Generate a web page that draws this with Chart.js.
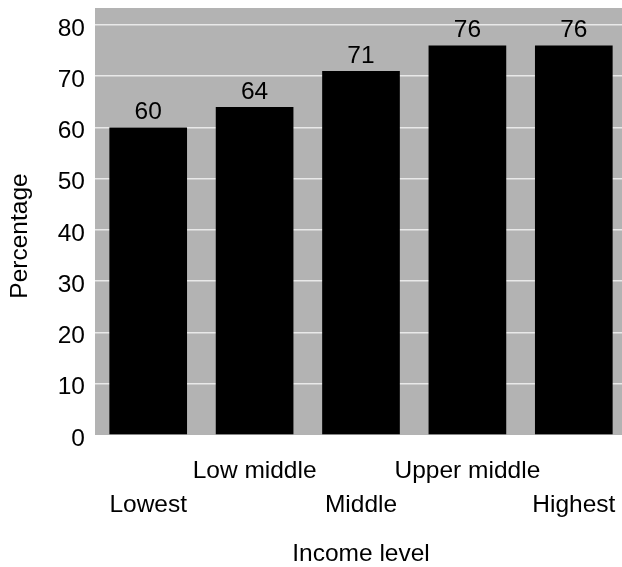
<!DOCTYPE html>
<html>
<head>
<meta charset="utf-8">
<script src="https://cdn.jsdelivr.net/npm/chart.js@4/dist/chart.umd.min.js"></script>
<style>
  html, body { margin: 0; padding: 0; background: #ffffff; overflow: hidden; }
  #wrap { width: 622px; height: 567px; overflow: hidden; position: relative; }
  canvas { display: block; }
</style>
</head>
<body>
<div id="wrap"><canvas id="chart" width="632" height="567"></canvas></div>
<script>
// Share of each income group (percent)
const categories = ['Lowest', 'Low middle', 'Middle', 'Upper middle', 'Highest'];
const percentages = [60, 64, 71, 76, 76];
const yTicks = [0, 10, 20, 30, 40, 50, 60, 70, 80];
const xTitle = 'Income level';
const yTitle = 'Percentage';

const FONT = 'Liberation Sans, Arial, Helvetica, sans-serif';
const SIZE = 24.5;

// Alternate labels between two rows so the long names do not collide
const staggered = categories.map((c, i) => (i % 2 === 0 ? ['', c] : [c, '']));

const plotBackground = {
  id: 'plotBackground',
  beforeDraw(chart) {
    const { ctx, chartArea: a } = chart;
    ctx.save();
    ctx.fillStyle = '#b3b3b3';
    ctx.fillRect(a.left, a.top, a.right - a.left, a.bottom - a.top);
    ctx.restore();
  }
};

const valueLabels = {
  id: 'valueLabels',
  afterDatasetsDraw(chart) {
    const { ctx } = chart;
    const meta = chart.getDatasetMeta(0);
    ctx.save();
    ctx.font = SIZE + 'px ' + FONT;
    ctx.fillStyle = '#000000';
    ctx.textAlign = 'center';
    ctx.textBaseline = 'alphabetic';
    meta.data.forEach((bar, i) => {
      ctx.fillText(String(percentages[i]), bar.x, bar.y - 8);
    });
    ctx.restore();
  }
};

const yAxisTitle = {
  id: 'yAxisTitle',
  afterDraw(chart) {
    const { ctx } = chart;
    ctx.save();
    ctx.font = SIZE + 'px ' + FONT;
    ctx.fillStyle = '#000000';
    ctx.textAlign = 'center';
    ctx.textBaseline = 'alphabetic';
    ctx.translate(27, 236);
    ctx.rotate(-Math.PI / 2);
    ctx.fillText(yTitle, 0, 0);
    ctx.restore();
  }
};

function noEdgePadding(scale) {
  scale.paddingTop = 0;
  scale.paddingBottom = 0;
  scale.paddingLeft = 0;
  scale.paddingRight = 0;
}

new Chart(document.getElementById('chart'), {
  type: 'bar',
  data: {
    labels: staggered,
    datasets: [{
      data: percentages,
      backgroundColor: '#000000',
      borderWidth: 0,
      categoryPercentage: 1.0,
      barPercentage: 0.73
    }]
  },
  options: {
    responsive: false,
    animation: false,
    devicePixelRatio: 1,
    layout: { padding: { top: 8, right: 5, bottom: 0, left: 0 } },
    plugins: {
      legend: { display: false },
      tooltip: { enabled: false }
    },
    scales: {
      x: {
        offset: true,
        border: { display: false },
        grid: { display: false, drawTicks: false },
        ticks: {
          autoSkip: false,
          maxRotation: 0,
          minRotation: 0,
          padding: 19,
          color: '#000000',
          font: { family: FONT, size: SIZE, lineHeight: 34 / SIZE }
        },
        title: {
          display: true,
          text: xTitle,
          color: '#000000',
          font: { family: FONT, size: SIZE, lineHeight: 1.05 },
          padding: { top: 0, bottom: 0 }
        },
        afterFit(scale) { scale.height = 132; noEdgePadding(scale); }
      },
      y: {
        min: 0,
        max: 83.3,
        border: { display: false },
        grid: {
          drawTicks: false,
          lineWidth: 1.5,
          color: (c) => (c.tick && c.tick.value === 0 ? 'rgba(0,0,0,0)' : '#e9e9e9')
        },
        afterBuildTicks(scale) {
          scale.ticks = yTicks.map(v => ({ value: v }));
        },
        ticks: {
          padding: 10,
          labelOffset: 4,
          color: '#000000',
          font: { family: FONT, size: SIZE }
        },
        afterFit(scale) { scale.width = 95; noEdgePadding(scale); }
      }
    }
  },
  plugins: [plotBackground, valueLabels, yAxisTitle]
});
</script>
</body>
</html>
